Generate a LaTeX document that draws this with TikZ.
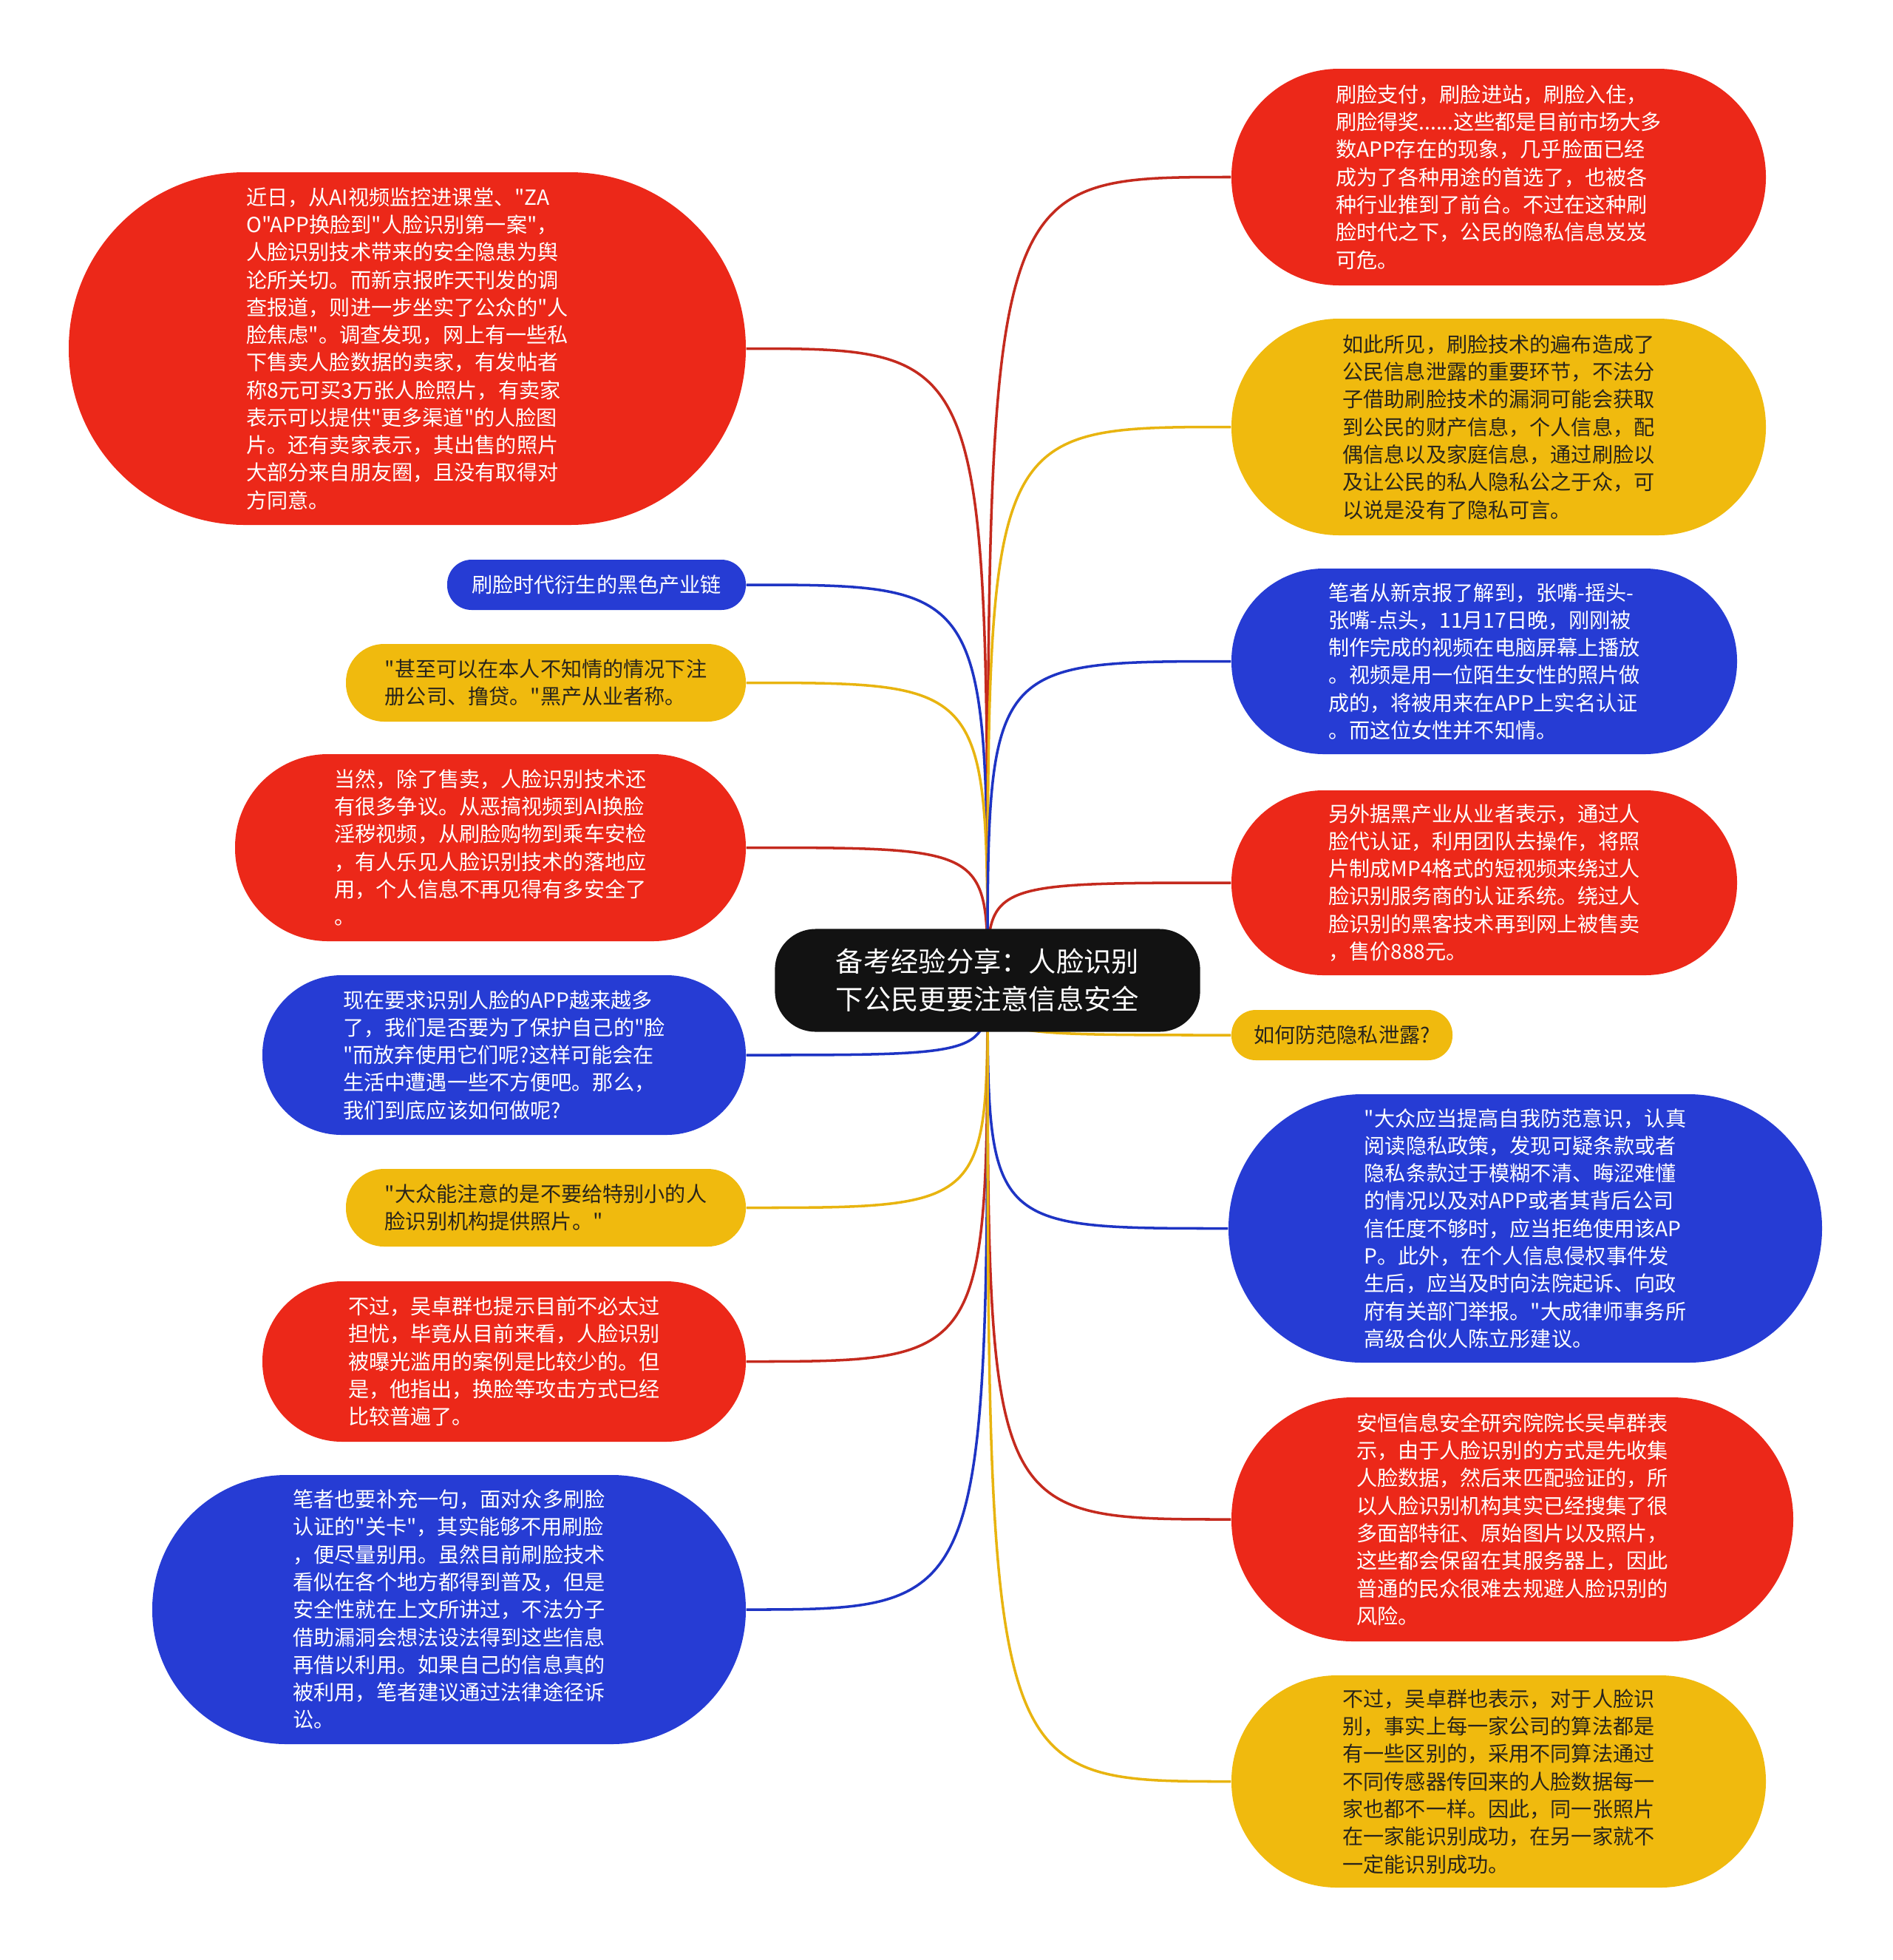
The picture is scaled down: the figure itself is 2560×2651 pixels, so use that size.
\documentclass[tikz,border=0pt]{standalone}
\usepackage{fontspec}
\newfontfamily\cjk{Noto Sans CJK SC}
\pgfdeclarelayer{bg}
\pgfsetlayers{bg,main}
\definecolor{nred}{RGB}{236,40,25}
\definecolor{nblue}{RGB}{38,60,212}
\definecolor{nyellow}{RGB}{240,186,14}
\definecolor{lred}{RGB}{196,42,30}
\definecolor{lblue}{RGB}{30,52,196}
\definecolor{lyellow}{RGB}{232,180,16}
\definecolor{darktext}{RGB}{40,36,28}
\tikzset{
  bx/.style={draw=none, inner sep=0pt, align=left,
    font={\cjk\fontsize{8pt}{10.6pt}\selectfont}},
  sz/.style 2 args={minimum width=#1*0.01cm, minimum height=#2*0.01cm,
    rounded corners=#2*0.005cm-0.3pt},
  rednode/.style={bx, fill=nred, text=white},
  bluenode/.style={bx, fill=nblue, text=white},
  yellownode/.style={bx, fill=nyellow, text=darktext},
  conn/.style={line width=1pt},
  redconn/.style={conn, draw=lred},
  blueconn/.style={conn, draw=lblue},
  yellowconn/.style={conn, draw=lyellow},
  rootnode/.style={fill=black!93, text=white, inner sep=0pt, align=center,
    minimum width=5.75cm, minimum height=1.39cm, rounded corners=0.55cm,
    font={\cjk\fontsize{10.6pt}{14.4pt}\selectfont}}
}
\begin{document}
\begin{tikzpicture}[x=0.01cm,y=-0.01cm]
\useasboundingbox (0,0) rectangle (2560,2651);

\node[rootnode] (C) at (1336,1326) {备考经验分享：人脸识别\\下公民更要注意信息安全};

% left side
\node[rednode, sz={916}{477}] (L1) at (551,471.5) {近日，从AI视频监控进课堂、"ZA\\O"APP换脸到"人脸识别第一案"，\\人脸识别技术带来的安全隐患为舆\\论所关切。而新京报昨天刊发的调\\查报道，则进一步坐实了公众的"人\\脸焦虑"。调查发现，网上有一些私\\下售卖人脸数据的卖家，有发帖者\\称8元可买3万张人脸照片，有卖家\\表示可以提供"更多渠道"的人脸图\\片。还有卖家表示，其出售的照片\\大部分来自朋友圈，且没有取得对\\方同意。};
\node[bluenode, sz={404}{68}] (L2) at (807,791) {刷脸时代衍生的黑色产业链};
\node[yellownode, sz={541}{105}] (L3) at (738.5,923.5) {"甚至可以在本人不知情的情况下注\\册公司、撸贷。"黑产从业者称。};
\node[rednode, sz={691}{253}] (L4) at (663.5,1146.5) {当然，除了售卖，人脸识别技术还\\有很多争议。从恶搞视频到AI换脸\\淫秽视频，从刷脸购物到乘车安检\\，有人乐见人脸识别技术的落地应\\用，个人信息不再见得有多安全了\\。};
\node[bluenode, sz={654}{216}] (L5) at (682,1427) {现在要求识别人脸的APP越来越多\\了，我们是否要为了保护自己的"脸\\"而放弃使用它们呢?这样可能会在\\生活中遭遇一些不方便吧。那么，\\我们到底应该如何做呢?};
\node[yellownode, sz={541}{105}] (L6) at (738.5,1633.5) {"大众能注意的是不要给特别小的人\\脸识别机构提供照片。"};
\node[rednode, sz={654}{217}] (L7) at (682,1841.5) {不过，吴卓群也提示目前不必太过\\担忧，毕竟从目前来看，人脸识别\\被曝光滥用的案例是比较少的。但\\是，他指出，换脸等攻击方式已经\\比较普遍了。};
\node[bluenode, sz={803}{364}] (L8) at (607.5,2177) {笔者也要补充一句，面对众多刷脸\\认证的"关卡"，其实能够不用刷脸\\，便尽量别用。虽然目前刷脸技术\\看似在各个地方都得到普及，但是\\安全性就在上文所讲过，不法分子\\借助漏洞会想法设法得到这些信息\\再借以利用。如果自己的信息真的\\被利用，笔者建议通过法律途径诉\\讼。};

% right side
\node[rednode, sz={723}{293}] (R1) at (2027.5,239.5) {刷脸支付，刷脸进站，刷脸入住，\\刷脸得奖......这些都是目前市场大多\\数APP存在的现象，几乎脸面已经\\成为了各种用途的首选了，也被各\\种行业推到了前台。不过在这种刷\\脸时代之下，公民的隐私信息岌岌\\可危。};
\node[yellownode, sz={723}{293}] (R2) at (2027.5,577.5) {如此所见，刷脸技术的遍布造成了\\公民信息泄露的重要环节，不法分\\子借助刷脸技术的漏洞可能会获取\\到公民的财产信息，个人信息，配\\偶信息以及家庭信息，通过刷脸以\\及让公民的私人隐私公之于众，可\\以说是没有了隐私可言。};
\node[bluenode, sz={684}{251}] (R3) at (2008,894.5) {笔者从新京报了解到，张嘴-摇头-\\张嘴-点头，11月17日晚，刚刚被\\制作完成的视频在电脑屏幕上播放\\。视频是用一位陌生女性的照片做\\成的，将被用来在APP上实名认证\\。而这位女性并不知情。};
\node[rednode, sz={684}{250}] (R4) at (2008,1194) {另外据黑产业从业者表示，通过人\\脸代认证，利用团队去操作，将照\\片制成MP4格式的短视频来绕过人\\脸识别服务商的认证系统。绕过人\\脸识别的黑客技术再到网上被售卖\\，售价888元。};
\node[yellownode, sz={299}{68}] (R5) at (1815.5,1400) {如何防范隐私泄露?};
\node[bluenode, sz={803}{363}] (R6) at (2063.5,1661.5) {"大众应当提高自我防范意识，认真\\阅读隐私政策，发现可疑条款或者\\隐私条款过于模糊不清、晦涩难懂\\的情况以及对APP或者其背后公司\\信任度不够时，应当拒绝使用该AP\\P。此外，在个人信息侵权事件发\\生后，应当及时向法院起诉、向政\\府有关部门举报。"大成律师事务所\\高级合伙人陈立彤建议。};
\node[rednode, sz={760}{330}] (R7) at (2046,2055) {安恒信息安全研究院院长吴卓群表\\示，由于人脸识别的方式是先收集\\人脸数据，然后来匹配验证的，所\\以人脸识别机构其实已经搜集了很\\多面部特征、原始图片以及照片，\\这些都会保留在其服务器上，因此\\普通的民众很难去规避人脸识别的\\风险。};
\node[yellownode, sz={723}{287}] (R8) at (2027.5,2409.5) {不过，吴卓群也表示，对于人脸识\\别，事实上每一家公司的算法都是\\有一些区别的，采用不同算法通过\\不同传感器传回来的人脸数据每一\\家也都不一样。因此，同一张照片\\在一家能识别成功，在另一家就不\\一定能识别成功。};

\begin{pgfonlayer}{bg}
\draw[redconn]    (C.center) .. controls (C.center |- L1.east) .. (L1.east);
\draw[blueconn]   (C.center) .. controls (C.center |- L2.east) .. (L2.east);
\draw[yellowconn] (C.center) .. controls (C.center |- L3.east) .. (L3.east);
\draw[redconn]    (C.center) .. controls (C.center |- L4.east) .. (L4.east);
\draw[blueconn]   (C.center) .. controls (C.center |- L5.east) .. (L5.east);
\draw[yellowconn] (C.center) .. controls (C.center |- L6.east) .. (L6.east);
\draw[redconn]    (C.center) .. controls (C.center |- L7.east) .. (L7.east);
\draw[blueconn]   (C.center) .. controls (C.center |- L8.east) .. (L8.east);
\draw[redconn]    (C.center) .. controls (C.center |- R1.west) .. (R1.west);
\draw[yellowconn] (C.center) .. controls (C.center |- R2.west) .. (R2.west);
\draw[blueconn]   (C.center) .. controls (C.center |- R3.west) .. (R3.west);
\draw[redconn]    (C.center) .. controls (C.center |- R4.west) .. (R4.west);
\draw[yellowconn] (C.center) .. controls (C.center |- R5.west) .. (R5.west);
\draw[blueconn]   (C.center) .. controls (C.center |- R6.west) .. (R6.west);
\draw[redconn]    (C.center) .. controls (C.center |- R7.west) .. (R7.west);
\draw[yellowconn] (C.center) .. controls (C.center |- R8.west) .. (R8.west);
\end{pgfonlayer}
\end{tikzpicture}
\end{document}
